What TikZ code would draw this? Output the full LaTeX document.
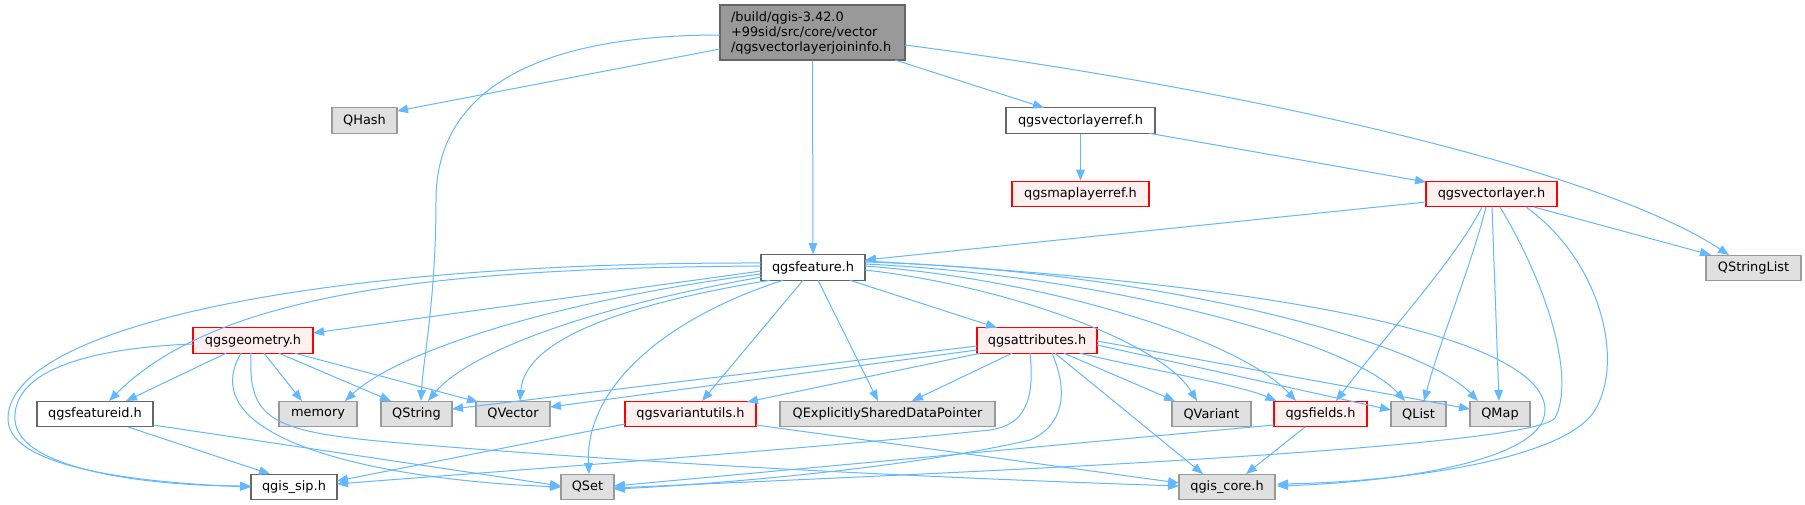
\documentclass[tikz,border=0pt]{standalone}
\usepackage{fontspec}
\setmainfont{DejaVu Sans}
\usetikzlibrary{arrows.meta,calc}
\definecolor{edgecol}{HTML}{63B8FF}
\definecolor{grayfill}{HTML}{E0E0E0}
\definecolor{grayline}{HTML}{999999}
\definecolor{darkline}{HTML}{666666}
\definecolor{redfill}{HTML}{FFF0F0}
\definecolor{mainfill}{HTML}{999999}
\begin{document}
\begin{tikzpicture}[x=1pt,y=-1pt,
  font=\fontsize{12.9}{15}\selectfont,
  base/.style={draw, line width=1.1pt, inner sep=0pt, minimum height=25.5pt, anchor=center},
  gbox/.style={base, fill=grayfill, draw=grayline},
  wbox/.style={base, fill=white, draw=darkline},
  rbox/.style={base, fill=redfill, draw=red},
  mbox/.style={base, fill=mainfill, draw=darkline},
  e/.style={draw=edgecol, line width=1pt, -{Triangle[length=11pt,width=8.5pt]}}]
\useasboundingbox (0,0) rectangle (1805,505);
\fill[white] (0,0) rectangle (1805,505);

% nodes
\node[mbox, minimum width=185pt, minimum height=55pt, text width=163pt, align=left, inner xsep=11pt] (M) at (812.5,32.5) {/build/qgis-3.42.0\\+99sid/src/core/vector\\/qgsvectorlayerjoininfo.h};
\node[gbox, minimum width=65pt] (QH) at (364.5,120.5) {QHash};
\node[wbox, minimum width=149pt] (VR) at (1080.5,120.5) {qgsvectorlayerref.h};
\node[rbox, minimum width=137pt] (MR) at (1080.5,194) {qgsmaplayerref.h};
\node[rbox, minimum width=131pt] (VL) at (1491.5,194) {qgsvectorlayer.h};
\node[wbox, minimum width=104pt] (F) at (813,267.5) {qgsfeature.h};
\node[gbox, minimum width=95pt] (QSL) at (1753.5,268) {QStringList};
\node[rbox, minimum width=120pt] (G) at (253,340.5) {qgsgeometry.h};
\node[rbox, minimum width=120pt] (A) at (1037,340.5) {qgsattributes.h};
\node[wbox, minimum width=116pt] (FI) at (95,414) {qgsfeatureid.h};
\node[gbox, minimum width=78pt] (mem) at (318,414) {memory};
\node[gbox, minimum width=71pt] (QS) at (416.5,414) {QString};
\node[gbox, minimum width=74pt] (QV) at (513,414) {QVector};
\node[rbox, minimum width=131pt] (VU) at (690.5,414) {qgsvariantutils.h};
\node[gbox, minimum width=215pt] (QE) at (887.5,414) {QExplicitlySharedDataPointer};
\node[gbox, minimum width=79pt] (QVar) at (1211.5,414) {QVariant};
\node[rbox, minimum width=93pt] (Fi) at (1320.5,414) {qgsfields.h};
\node[gbox, minimum width=55pt] (QL) at (1418.5,414) {QList};
\node[gbox, minimum width=60pt] (QM) at (1500,414) {QMap};
\node[wbox, minimum width=86pt] (sip) at (294,487) {qgis\_sip.h};
\node[gbox, minimum width=53pt] (QSet) at (587.5,487) {QSet};
\node[gbox, minimum width=96pt] (core) at (1227,487) {qgis\_core.h};

% edges from main
\draw[e] ($(M)+(-92.5,16.5)$) -- ($(QH)+(32.5,-9.5)$);
\draw[e] ($(M)+(-92.5,2.5)$) .. controls (520,35) and (436,100) .. (436,200) .. controls (436,300) and (423,360) .. ($(QS)+(4.5,-13)$);
\draw[e] (M.south) -- (F.north);
\draw[e] ($(M)+(82.5,27.5)$) -- ($(VR)+(-36.5,-12.75)$);
\draw[e] ($(M)+(92.5,12.5)$) .. controls (1250,90) and (1600,170) .. ($(QSL)+(-24.5,-13)$);

% qgsvectorlayerref
\draw[e] (VR.south) -- (MR.north);
\draw[e] ($(VR)+(68.5,12.75)$) -- ($(VL)+(-65.5,-12)$);

% qgsvectorlayer
\draw[e] ($(VL)+(-65.5,8)$) -- ($(F)+(52,-7.5)$);
\draw[e] ($(VL)+(42.5,13)$) -- ($(QSL)+(-42.5,-13)$);
\draw[e] ($(VL)+(-9.5,13)$) .. controls (1455,260) and (1390,330) .. ($(Fi)+(15.5,-13)$);
\draw[e] ($(VL)+(-5.5,13)$) .. controls (1470,270) and (1440,340) .. ($(QL)+(5.5,-13)$);
\draw[e] ($(VL)+(0.5,13)$) -- ($(QM)+(-1,-13)$);
\draw[e] ($(VL)+(8.5,13)$) .. controls (1550,290) and (1575,380) .. (1555,418) .. controls (1530,450) and (900,475) .. ($(QSet)+(26.5,1)$);
\draw[e] ($(VL)+(34.5,13)$) .. controls (1600,260) and (1625,360) .. (1595,410) .. controls (1565,460) and (1400,482) .. ($(core)+(50,-3)$);

% qgsfeature
\draw[e] ($(F)+(-52,-1.5)$) .. controls (450,268) and (220,290) .. ($(FI)+(14,-13)$);
\draw[e] ($(F)+(-52,-4.5)$) .. controls (300,262) and (5,330) .. (8,420) .. controls (10,470) and (150,483) .. ($(sip)+(-43,0)$);
\draw[e] ($(F)+(-52,3.5)$) -- ($(G)+(60,-7.5)$);
\draw[e] ($(F)+(-52,6.5)$) .. controls (560,300) and (400,350) .. ($(mem)+(27,-13)$);
\draw[e] ($(F)+(-51,9.5)$) .. controls (600,305) and (470,350) .. ($(QS)+(11.5,-13)$);
\draw[e] ($(F)+(-43,12.75)$) .. controls (620,305) and (525,340) .. ($(QV)+(7,-13)$);
\draw[e] ($(F)+(-30,12.75)$) .. controls (660,320) and (585,390) .. ($(QSet)+(1.5,-13)$);
\draw[e] ($(F)+(-10,12.75)$) -- ($(VU)+(11.5,-13)$);
\draw[e] ($(F)+(5,12.75)$) -- ($(QE)+(-9.5,-13)$);
\draw[e] ($(F)+(37,12.75)$) -- ($(A)+(-40,-12.75)$);
\draw[e] ($(F)+(52,2.5)$) .. controls (1000,285) and (1160,340) .. ($(QVar)+(-14.5,-13)$);
\draw[e] ($(F)+(52,-1.5)$) .. controls (1050,280) and (1240,340) .. ($(Fi)+(-24.5,-13)$);
\draw[e] ($(F)+(52,-3.5)$) .. controls (1100,275) and (1350,340) .. ($(QL)+(-13.5,-13)$);
\draw[e] ($(F)+(52,-5.5)$) .. controls (1150,270) and (1420,340) .. ($(QM)+(-22,-13)$);
\draw[e] ($(F)+(52,-6.5)$) .. controls (1300,285) and (1545,340) .. (1545,410) .. controls (1545,460) and (1400,482) .. ($(core)+(50,-1)$);

% qgsgeometry
\draw[e] ($(G)+(-60,3.5)$) .. controls (90,348) and (12,370) .. (15,420) .. controls (18,470) and (150,486) .. ($(sip)+(-43,-1)$);
\draw[e] ($(G)+(-27,12.75)$) -- ($(FI)+(31,-13)$);
\draw[e] ($(G)+(11,12.75)$) -- ($(mem)+(-16,-13)$);
\draw[e] ($(G)+(26,12.75)$) -- ($(QS)+(-25.5,-13)$);
\draw[e] ($(G)+(42,12.75)$) -- ($(QV)+(-35,-12)$);
\draw[e] ($(G)+(-12,12.75)$) .. controls (190,440) and (380,480) .. ($(QSet)+(-26.5,0)$);
\draw[e] ($(G)+(-2,12.75)$) .. controls (248,420) and (270,432) .. (400,443) .. controls (700,468) and (1000,480) .. ($(core)+(-48,-1)$);

% qgsattributes
\draw[e] ($(A)+(-60,5.5)$) -- ($(QS)+(35.5,-5)$);
\draw[e] ($(A)+(-60,9.5)$) -- ($(QV)+(37,-7)$);
\draw[e] ($(A)+(-57,12.75)$) -- ($(VU)+(56.5,-12)$);
\draw[e] ($(A)+(-25,12.75)$) -- ($(QE)+(24.5,-13)$);
\draw[e] ($(A)+(-7,12.75)$) .. controls (1035,400) and (1025,425) .. (990,430) .. controls (800,450) and (450,475) .. ($(sip)+(43,-3)$);
\draw[e] ($(A)+(15,12.75)$) .. controls (1068,390) and (1065,425) .. (1030,440) .. controls (900,470) and (700,485) .. ($(QSet)+(26.5,2)$);
\draw[e] ($(A)+(18,12.75)$) -- ($(core)+(-24,-13)$);
\draw[e] ($(A)+(27,12.75)$) -- ($(QVar)+(-36.5,-13)$);
\draw[e] ($(A)+(43,12.75)$) .. controls (1150,370) and (1240,385) .. ($(Fi)+(-44,-13)$);
\draw[e] ($(A)+(60,4.5)$) -- ($(QL)+(-27.5,-4)$);
\draw[e] ($(A)+(60,0.5)$) -- ($(QM)+(-30,-5)$);

% qgsvariantutils
\draw[e] ($(VU)+(-65.5,10)$) -- ($(sip)+(43,-6)$);
\draw[e] ($(VU)+(65.5,11)$) -- ($(core)+(-48,-4)$);

% qgsfields
\draw[e] ($(Fi)+(-46.5,11)$) -- ($(QSet)+(26.5,-1)$);
\draw[e] ($(Fi)+(-15.5,13)$) -- ($(core)+(19,-13)$);

% qgsfeatureid
\draw[e] ($(FI)+(33,13)$) -- ($(sip)+(-24,-13)$);
\draw[e] ($(FI)+(58,11)$) -- ($(QSet)+(-26.5,-1)$);
\end{tikzpicture}
\end{document}
